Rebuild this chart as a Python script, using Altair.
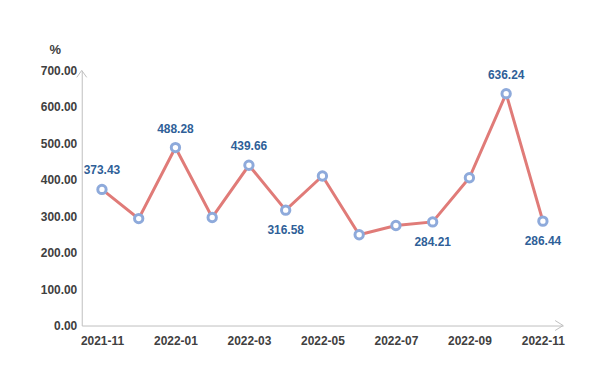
import altair as alt
import pandas as pd

months = ["2021-11", "2021-12", "2022-01", "2022-02", "2022-03", "2022-04", "2022-05",
          "2022-06", "2022-07", "2022-08", "2022-09", "2022-10", "2022-11"]
values = [373.43, 293.4, 488.28, 296.5, 439.66, 316.58, 410.2,
          249.0, 274.5, 284.21, 405.5, 636.24, 286.44]
label_above = ["373.43", "", "488.28", "", "439.66", "", "", "", "", "", "", "636.24", ""]
label_below = ["", "", "", "", "", "316.58", "", "", "", "284.21", "", "", "286.44"]
tick_months = ["2021-11", "2022-01", "2022-03", "2022-05", "2022-07", "2022-09", "2022-11"]

df = pd.DataFrame({"month": months, "value": values, "above": label_above, "below": label_below})

FONT = "Liberation Sans"
W, H = 483, 256

x = alt.X("month:O", sort=months,
          scale=alt.Scale(type="point", padding=0.55),
          axis=alt.Axis(values=tick_months, title=None, labelAngle=0, ticks=False,
                        domainColor="#bfbfbf", domainWidth=1, labelFont=FONT,
                        labelFontSize=12, labelFontWeight="bold", labelColor="#404040",
                        labelPadding=10, grid=False))
y = alt.Y("value:Q", scale=alt.Scale(domain=[0, 700]),
          axis=alt.Axis(values=[0, 100, 200, 300, 400, 500, 600, 700], format=".2f",
                        title="%", titleAngle=0, titleAlign="center", titleX=-27, titleY=-14,
                        titleFont=FONT, titleFontSize=13, titleFontWeight="bold",
                        titleColor="#404040", ticks=False, domainColor="#bfbfbf",
                        labelFont=FONT, labelFontSize=12, labelFontWeight="bold",
                        labelColor="#404040", labelPadding=5, grid=False))

base = alt.Chart(df)
line = base.mark_line(color="#e07b78", strokeWidth=3).encode(x=x, y=y)
pts = base.mark_point(shape="circle", filled=True, fill="white", stroke="#8eaadb",
                      strokeWidth=3, size=70, opacity=1).encode(x=x, y=y)
txt_a = base.mark_text(dy=-19, font=FONT, fontSize=12, fontWeight="bold",
                       color="#2f5f98").encode(x=x, y=y, text="above:N")
txt_b = base.mark_text(dy=20, font=FONT, fontSize=12, fontWeight="bold",
                       color="#2f5f98").encode(x=x, y=y, text="below:N")

arrow_df = pd.DataFrame({"k": [0]})
x_arrow = alt.Chart(arrow_df).mark_point(shape="M-1.6,-1L0,0L-1.6,1", size=100, stroke="#bfbfbf",
                                         strokeWidth=1, filled=False, opacity=1).encode(
    x=alt.value(W), y=alt.value(H))
y_arrow = alt.Chart(arrow_df).mark_point(shape="M-1,1.4L0,0L1,1.4", size=100, stroke="#bfbfbf",
                                         strokeWidth=1, filled=False, opacity=1).encode(
    x=alt.value(0), y=alt.value(0))

chart = alt.layer(line, pts, txt_a, txt_b, x_arrow, y_arrow).properties(
    width=W, height=H,
    autosize=alt.AutoSizeParams(type="none"),
    padding={"left": 74, "top": 62, "right": 30, "bottom": 40},
    background="white",
).configure_view(stroke=None, strokeWidth=0)

chart.save("out.html", embed_options={"renderer": "svg", "actions": False})
